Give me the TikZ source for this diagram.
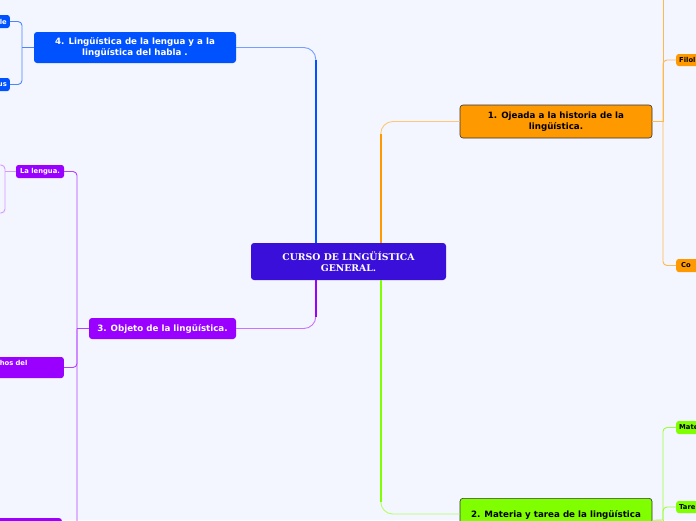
\documentclass[tikz,border=0pt]{standalone}
\usepackage{fontspec}
\newfontfamily\ssf{DejaVu Sans}
\newfontfamily\srf{DejaVu Serif}
\usetikzlibrary{calc}
\definecolor{bg}{HTML}{F3F5FF}
\definecolor{cen}{HTML}{3A0FD9}
\definecolor{cblue}{HTML}{0052FF}
\definecolor{corange}{HTML}{FF9900}
\definecolor{cpurple}{HTML}{9900FF}
\definecolor{cgreen}{HTML}{80FF00}
\definecolor{bord}{HTML}{333333}
\tikzset{
  mainbox/.style={rounded corners=3pt, inner sep=0pt, align=center,
    font=\ssf\bfseries\fontsize{8.7}{11}\selectfont},
  kidbox/.style={rounded corners=2.5pt, inner xsep=3pt, inner ysep=0pt,
    font=\ssf\bfseries\fontsize{6.8}{8.5}\selectfont},
  thin link/.style={line width=0.9pt},
  thick link/.style={line width=1.7pt},
  kid link/.style={line width=0.9pt, rounded corners=4pt},
}
\begin{document}
\begin{tikzpicture}[x=1pt,y=-1pt]
\useasboundingbox (0,0) rectangle (696,520);
\clip (0,0) rectangle (696,520);
\fill[bg] (0,0) rectangle (696,520);

% central
\node[mainbox, fill=cen, text=white, minimum width=195, minimum height=37,
  font=\srf\bfseries\fontsize{9.3}{11.5}\selectfont] (c) at (348.5,261.5)
  {CURSO DE LINGÜÍSTICA\\GENERAL.};

% main branches
\node[mainbox, fill=cblue, text=white, minimum width=202, minimum height=31] (n4) at (135,47.5)
  {4. Lingüística de la lengua y a la\\lingüística del habla .};
\node[mainbox, fill=corange, draw=bord, line width=0.6pt, text=black, minimum width=192, minimum height=33] (n1) at (556,121.5)
  {1. Ojeada a la historia de la\\lingüística.};
\node[mainbox, fill=cpurple, text=white, minimum width=147, minimum height=21] (n3) at (162.5,328.5)
  {3. Objeto de la lingüística.};
\node[mainbox, fill=cgreen, draw=bord, line width=0.6pt, text=black, minimum width=192, minimum height=44, anchor=north, inner ysep=6pt] (n2) at (556,498)
  {2. Materia y tarea de la lingüística\\que relaciones con las ciencias};

% central connectors
\coordinate (cb) at ([xshift=65pt]c.north west);
\coordinate (co) at ([xshift=130pt]c.north west);
\coordinate (cp) at ([xshift=65pt]c.south west);
\coordinate (cg) at ([xshift=130pt]c.south west);
\draw[thin link, cblue!55, rounded corners=12pt] (cb) |- (n4.east);
\draw[thick link, cblue] (cb) -- ($(cb |- n4.east)+(0,12)$);
\draw[thin link, corange!55, rounded corners=12pt] (co) |- (n1.west);
\draw[thick link, corange] (co) -- ($(co |- n1.west)+(0,12)$);
\draw[thin link, cpurple!55, rounded corners=12pt] (cp) |- (n3.east);
\draw[thick link, cpurple] (cp) -- ($(cp |- n3.east)+(0,-12)$);
\coordinate (n2in) at ([yshift=-16pt]n2.north west);
\draw[thin link, cgreen!60, rounded corners=12pt] (cg) |- (n2in);
\draw[thick link, cgreen] (cg) -- ($(cg |- n2in)+(0,-12)$);

% node 4 children
\node[kidbox, fill=cblue, text=white, anchor=east, minimum height=13, text width=30, align=right] (le) at (10,21.5) {le};
\node[kidbox, fill=cblue, text=white, anchor=east, minimum height=13, text width=30, align=right] (us) at (10,84.5) {us};
\coordinate (j4) at (22,47.5);
\draw[kid link, cblue!70] (n4.west) -- (j4);
\draw[kid link, cblue!70] (le.east) -| (j4);
\draw[kid link, cblue!70] (us.east) -| (j4);

% node 1 children
\node[kidbox, fill=corange, text=black, anchor=west, minimum height=12, text width=40, align=left] (filol) at (676,60) {Filol};
\node[kidbox, fill=corange, text=black, anchor=west, minimum height=13, text width=40, align=left, inner xsep=5pt] (cok) at (676,265.5) {Co};
\coordinate (j1) at (663,121.5);
\coordinate (j1top) at (663,-10);
\draw[kid link, corange!70] (n1.east) -- (j1);
\draw[kid link, corange!70] (filol.west) -| (j1);
\draw[kid link, corange!70] (cok.west) -| (j1);
\draw[kid link, corange!70] (j1) -- (j1top);

% node 2 children
\node[kidbox, fill=cgreen, text=black, anchor=west, minimum height=13, text width=40, align=left] (mate) at (676,427.5) {Mate};
\node[kidbox, fill=cgreen, text=black, anchor=west, minimum height=12, text width=40, align=left] (tare) at (676,507) {Tare};
\coordinate (j2) at (663,520);
\coordinate (j2bot) at (663,540);
\draw[kid link, cgreen!80] (n2.east) -- (j2);
\draw[kid link, cgreen!80] (mate.west) -| (j2);
\draw[kid link, cgreen!80] (tare.west) -| (j2);
\draw[kid link, cgreen!80] (j2) -- (j2bot);

% node 3 children
\node[kidbox, fill=cpurple, text=white, minimum width=48, minimum height=13] (lengua) at (40,171.5) {La lengua.};
\node[kidbox, fill=cpurple, text=white, anchor=east, minimum height=21, text width=80, align=left, inner xsep=0pt, inner ysep=2pt] (hechos) at (64,367.5) {\hspace*{16pt}hos del\\\mbox{}};
\node[kidbox, fill=cpurple, text=white, anchor=north east, minimum height=21, text width=60] (bot3) at (62,518) {};
\coordinate (j3) at (77,328.5);
\draw[kid link, cpurple!75] (n3.west) -- (j3);
\draw[kid link, cpurple!75] (lengua.east) -| (j3);
\draw[kid link, cpurple!75] (hechos.east) -| (j3);
\draw[kid link, cpurple!75] (bot3.east) -| (j3);

% la lengua children
\coordinate (jl) at (5,171.5);
\coordinate (lt) at (-5,165);
\coordinate (lb) at (-5,213);
\draw[kid link, cpurple!40] (lengua.west) -- (jl);
\draw[kid link, cpurple!40] (lt) -| (jl);
\draw[kid link, cpurple!40] (lb) -| (jl);
\end{tikzpicture}
\end{document}
